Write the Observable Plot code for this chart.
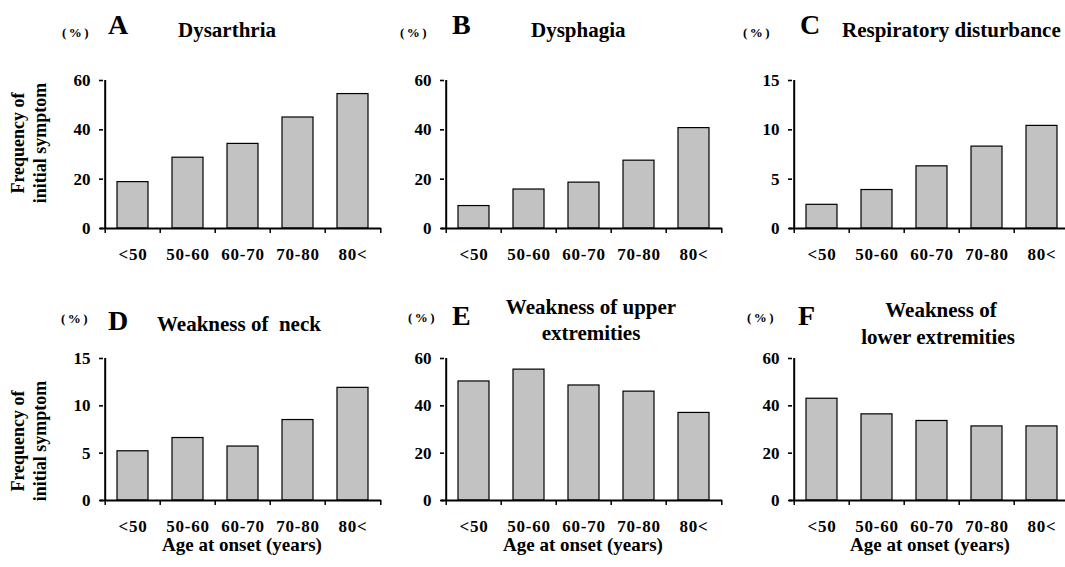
<!DOCTYPE html>
<html><head><meta charset="utf-8">
<script src="https://cdn.jsdelivr.net/npm/d3@7"></script>
<script src="https://cdn.jsdelivr.net/npm/@observablehq/plot@0.6"></script>
</head><body style="margin:0">
<div id="root"></div>
<script>
// ---- data ----
const ageGroups = ["<50", "50-60", "60-70", "70-80", "80<"];
const dysarthria = [18.8, 28.7, 34.3, 45.0, 54.5];
const dysphagia = [9.1, 15.8, 18.6, 27.5, 40.7];
const respiratory = [2.4, 3.9, 6.3, 8.3, 10.4];
const neck = [5.2, 6.6, 5.7, 8.5, 11.9];
const upperExt = [50.3, 55.3, 48.6, 46.0, 37.0];
const lowerExt = [43.0, 36.4, 33.6, 31.3, 31.3];
const panelLetters = ["A", "B", "C", "D", "E", "F"];
const panelTitles = [["Dysarthria"], ["Dysphagia"], ["Respiratory disturbance"], ["Weakness of  neck"], ["Weakness of upper", "extremities"], ["Weakness of", "lower extremities"]];
const yMax = [60, 60, 15, 15, 60, 60];
const yTicks = [[0, 20, 40, 60], [0, 20, 40, 60], [0, 5, 10, 15], [0, 5, 10, 15], [0, 20, 40, 60], [0, 20, 40, 60]];
const yLabelLines = ["Frequency of", "initial symptom"];
const xLabel = "Age at onset (years)";
const unitLabel = "(%)";
const series = [dysarthria, dysphagia, respiratory, neck, upperExt, lowerExt];

// ---- layout ----
const FONT = '"Liberation Serif"';
const root = document.getElementById("root");
Object.assign(root.style, {position: "relative", width: "1065px", height: "567px", overflow: "hidden", background: "#fff", color: "#000", fontFamily: FONT, fontWeight: "bold"});
const colLeft = [0, 341, 689];
const rows = [{top: 60, height: 200, mt: 20, mb: 32}, {top: 338, height: 192, mt: 20, mb: 30}];
const W = 391, ML = 103, MR = 10;

function addText(str, x, baseline, size, anchor, extra) {
  const d = document.createElement("div");
  d.textContent = str;
  Object.assign(d.style, {position: "absolute", whiteSpace: "pre", lineHeight: "1", fontFamily: FONT, fontWeight: "bold",
    fontSize: size + "px", left: x + "px", top: (baseline - 0.8375 * size) + "px"});
  if (anchor === "middle") d.style.transform = "translateX(-50%)";
  if (extra) Object.assign(d.style, extra);
  root.appendChild(d);
  return d;
}

function panel(i) {
  const r = rows[Math.floor(i / 3)];
  const step = (W - ML - MR) / ageGroups.length;
  const plotH = r.height - r.mt - r.mb;
  const data = ageGroups.map((g, k) => ({group: g, value: series[i][k]}));
  const chart = Plot.plot({
    width: W, height: r.height,
    marginTop: r.mt, marginBottom: r.mb, marginLeft: ML, marginRight: MR,
    style: {fontFamily: FONT, fontWeight: "bold", fontSize: "17px", color: "#000", background: "transparent", maxWidth: "none", overflow: "visible"},
    x: {domain: ageGroups, paddingInner: 0.44, paddingOuter: 0.22, tickSize: 0, tickPadding: 19, label: null},
    y: {domain: [0, yMax[i]], ticks: yTicks[i], tickSize: 4, tickPadding: 9, label: null},
    marks: [
      Plot.barY(data, {x: "group", y: "value", fill: "#c2c2c2", stroke: "#000", strokeWidth: 1.2}),
      Plot.ruleX(ageGroups.slice(0, 1), {x: d => d, dx: -step / 2, stroke: "#000", strokeWidth: 2}),
      Plot.ruleY([0], {stroke: "#000", strokeWidth: 2, insetLeft: -3}),
      Plot.ruleX(ageGroups, {x: d => d, dx: -step / 2, insetTop: plotH, insetBottom: -5, stroke: "#000", strokeWidth: 1.5}),
      Plot.ruleX(ageGroups.slice(-1), {x: d => d, dx: step / 2, insetTop: plotH, insetBottom: -5, stroke: "#000", strokeWidth: 1.5})
    ]
  });
  chart.setAttribute("font-family", "Liberation Serif");
  chart.querySelectorAll("text").forEach(t => { t.setAttribute("font-family", "Liberation Serif"); t.style.fontFamily = FONT; });
  chart.querySelectorAll("g[aria-label='x-axis tick label'] text").forEach(t => t.setAttribute("letter-spacing", "0.8"));
  chart.querySelectorAll("g[aria-label='y-axis tick'] path").forEach(p => p.setAttribute("stroke-width", "1.6"));
  const wrap = document.createElement("div");
  Object.assign(wrap.style, {position: "absolute", left: colLeft[i % 3] + "px", top: r.top + "px", width: W + "px", height: r.height + "px"});
  wrap.appendChild(chart);
  root.appendChild(wrap);
}
for (let i = 0; i < 6; i++) panel(i);

// titles
const unitPos = [[62, 37], [400, 37], [743, 37], [61, 323], [408, 322], [747, 322]];
const letterPos = [[108, 34], [452, 34], [800, 34], [108, 330], [452, 325], [798, 325]];
const titlePos = [
  [[178, 38, "start"]], [[531, 38, "start"]], [[842, 38, "start"]],
  [[157, 332, "start"]],
  [[591, 315, "middle"], [591, 341, "middle"]],
  [[941, 318, "middle"], [938, 345, "middle"]]
];
for (let i = 0; i < 6; i++) {
  addText(unitLabel, unitPos[i][0], unitPos[i][1], 13, "start", {letterSpacing: "2.5px"});
  addText(panelLetters[i], letterPos[i][0], letterPos[i][1], 28, "start");
  panelTitles[i].forEach((line, k) => {
    const [x, b, a] = titlePos[i][k];
    addText(line, x, b, 21, a);
  });
}
// x labels
[242, 583, 930].forEach(cx => addText(xLabel, cx, 551, 19, "middle"));
// y labels
[143, 441].forEach(cy => {
  const d = document.createElement("div");
  Object.assign(d.style, {position: "absolute", whiteSpace: "nowrap", fontFamily: FONT, fontWeight: "bold", fontSize: "18px",
    lineHeight: "22px", textAlign: "center", left: "29px", top: cy + "px", transform: "translate(-50%,-50%) rotate(-90deg)"});
  d.innerHTML = yLabelLines.join("<br>");
  root.appendChild(d);
});
</script>
</body></html>
